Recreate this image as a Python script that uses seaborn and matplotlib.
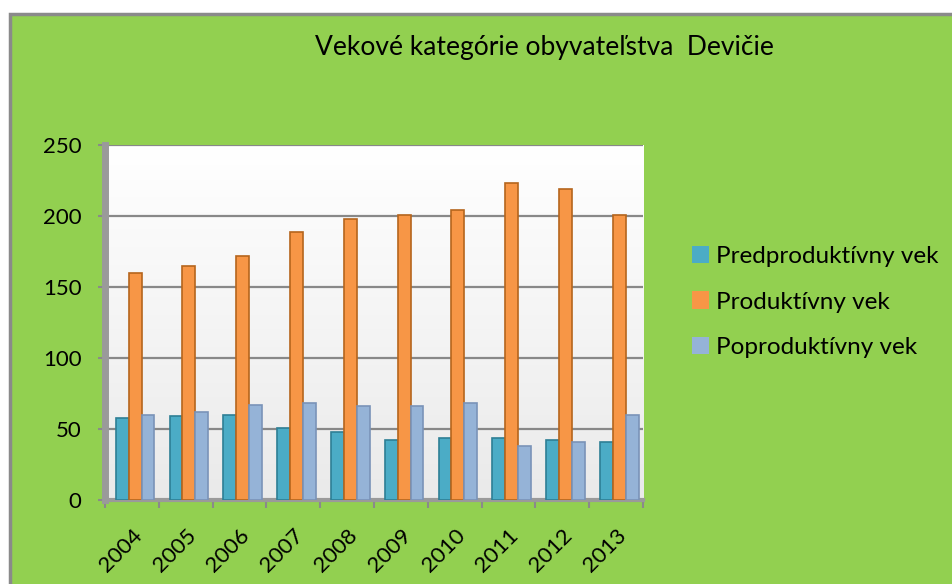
import numpy as np
import pandas as pd
import seaborn as sns
import matplotlib.pyplot as plt
from matplotlib.patches import Rectangle
from matplotlib.colors import LinearSegmentedColormap

# data
years = ['2004', '2005', '2006', '2007', '2008', '2009', '2010', '2011', '2012', '2013']
predproduktivny = [58, 59, 60, 51, 48, 42, 44, 44, 42, 41]
produktivny = [160, 165, 172, 189, 198, 201, 204, 223, 219, 201]
poproduktivny = [60, 62, 67, 68, 66, 66, 68, 38, 41, 60]

series_names = ['Predproduktívny vek', 'Produktívny vek', 'Poproduktívny vek']
bar_colors = ['#4BACC6', '#F79646', '#95B3D7']
edge_colors = ['#2E7F95', '#B5651D', '#7A93B8']

df = pd.DataFrame({
    'rok': years * 3,
    'pocet': predproduktivny + produktivny + poproduktivny,
    'skupina': [series_names[0]] * 10 + [series_names[1]] * 10 + [series_names[2]] * 10,
})

plt.rcParams['font.family'] = ['Lato', 'DejaVu Sans']

fig = plt.figure(figsize=(9.52, 5.84), dpi=100, facecolor='white')

# green chart area with grey border
fig.patches.append(Rectangle((9.5 / 952, -0.05), 1.1, 1.05 - 14 / 584,
                             transform=fig.transFigure, facecolor='#92D050',
                             edgecolor='#8A8A8A', linewidth=2.5, zorder=-10))

ax = fig.add_axes([105 / 952, 84 / 584, 538 / 952, 355 / 584])
ax.set_facecolor('none')

sns.barplot(data=df, x='rok', y='pocet', hue='skupina', palette=bar_colors,
            width=0.72, gap=0, saturation=1, ax=ax, zorder=3)

# edges per series, small shift to the right like the 3d original
for cont, ec in zip(ax.containers, edge_colors):
    for bar in cont:
        bar.set_edgecolor(ec)
        bar.set_linewidth(1.2)
        bar.set_x(bar.get_x() + 0.06)

# back wall gradient
grad = np.linspace(0, 1, 100).reshape(-1, 1)
ax.imshow(grad, cmap=LinearSegmentedColormap.from_list('wall', ['#EAEAEA', '#FFFFFF']),
          extent=(-0.45, 9.5, 0, 250), aspect='auto', origin='lower', zorder=0)
ax.set_xlim(-0.5, 9.5)
ax.set_ylim(0, 250)

ax.set_yticks([0, 50, 100, 150, 200, 250])
ax.yaxis.grid(True, color='#888888', linewidth=1.6, zorder=1)
ax.set_axisbelow(True)

for side in ['top', 'right']:
    ax.spines[side].set_visible(False)
ax.spines['left'].set_color('#9A9A9A')
ax.spines['left'].set_linewidth(5)
ax.spines['bottom'].set_color('#9A9A9A')
ax.spines['bottom'].set_linewidth(3)

ax.tick_params(axis='y', length=5, width=1.5, color='#8A8A8A', pad=12,
               labelsize=16, labelcolor='black')
ax.tick_params(axis='x', which='major', length=0, pad=18, labelsize=16)
ax.set_xticks(np.arange(-0.5, 10, 1), minor=True)
ax.tick_params(axis='x', which='minor', length=6, width=1.5, color='#8A8A8A')

for lbl in ax.get_xticklabels():
    lbl.set_rotation(45)
    lbl.set_ha('right')
    lbl.set_va('top')
    lbl.set_rotation_mode('anchor')

ax.set_xlabel('')
ax.set_ylabel('')

ax.legend(loc='center left', bbox_to_anchor=(692 / 952, 1 - 302 / 584),
          bbox_transform=fig.transFigure, frameon=False, fontsize=17.5,
          handlelength=0.7, handleheight=0.7, handletextpad=0.3,
          labelspacing=1.0, borderpad=0, borderaxespad=0)

fig.text(544 / 952, 1 - 47 / 584, 'Vekové kategórie obyvateľstva  Devičie',
         ha='center', va='center', fontsize=19)

plt.savefig('out.png', dpi=100)
